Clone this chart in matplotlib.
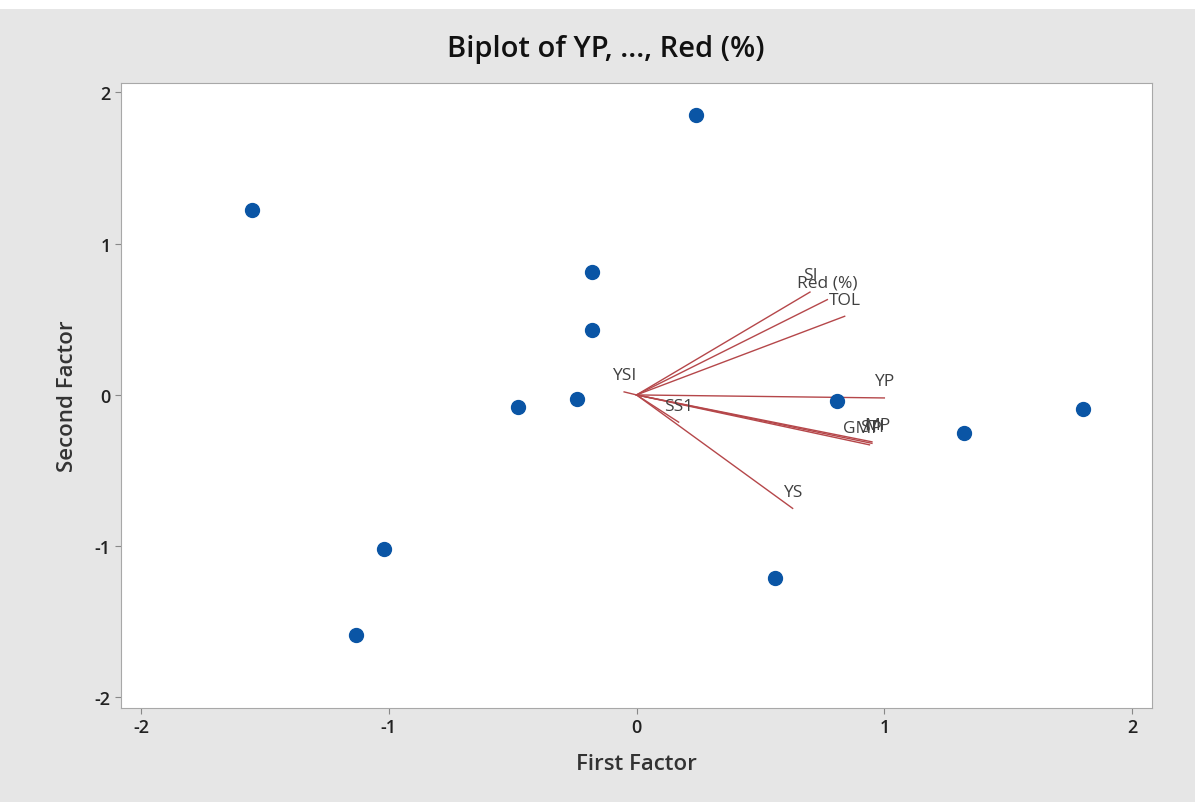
import matplotlib.pyplot as plt
from matplotlib.patches import Rectangle

plt.rcParams['font.family'] = ['Open Sans', 'DejaVu Sans']
plt.rcParams['axes.unicode_minus'] = False

# scores (first factor, second factor)
score_x = [0.24, -1.55, -0.18, -0.18, -0.48, -0.24, 0.81, 1.32, 1.80, 0.56, -1.02, -1.13]
score_y = [1.85, 1.22, 0.81, 0.43, -0.08, -0.03, -0.04, -0.25, -0.09, -1.21, -1.02, -1.59]

# loadings
var_names = ["YP", "YS", "SS1", "TOL", "MP", "GMP", "STI", "YSI", "SI", "Red (%)"]
load_x = [1.00, 0.63, 0.17, 0.84, 0.95, 0.94, 0.95, -0.05, 0.70, 0.77]
load_y = [-0.02, -0.75, -0.18, 0.52, -0.31, -0.33, -0.32, 0.02, 0.68, 0.63]
label_dx = [0.0, 0.0, 0.0, 0.0, 0.02, -0.03, 0.0, 0.0, 0.0, 0.0]

fig = plt.figure(figsize=(11.95, 8.03), dpi=100)
fig.patch.set_facecolor("#e6e6e6")
fig.patches.append(Rectangle((0, 1 - 10 / 803), 1, 10 / 803, transform=fig.transFigure,
                             facecolor="white", edgecolor="none", zorder=0))
ax = fig.add_axes([0.1013, 0.117, 0.8627, 0.778])
ax.set_facecolor("white")

for vx, vy in zip(load_x, load_y):
    ax.plot([0, vx], [0, vy], color="#b5474a", lw=1.0, zorder=2)
for name, vx, vy, dx in zip(var_names, load_x, load_y, label_dx):
    ax.text(vx + dx, vy + 0.11, name, ha="center", va="center", fontsize=12.5,
            color="#404040", zorder=3)

ax.plot(score_x, score_y, "o", color="#0a55a5", markersize=10, zorder=4)

ax.set_xlim(-2.08, 2.08)
ax.set_ylim(-2.07, 2.06)
ax.set_xticks([-2, -1, 0, 1, 2])
ax.set_yticks([-2, -1, 0, 1, 2])
ax.tick_params(labelsize=13, colors="#222222", length=4, color="#888888")
for lbl in ax.get_xticklabels() + ax.get_yticklabels():
    lbl.set_fontweight("semibold")
for s in ax.spines.values():
    s.set_color("#a8a8a8")

ax.set_xlabel("First Factor", fontsize=16, fontweight="semibold", color="#333333", labelpad=12)
ax.set_ylabel("Second Factor", fontsize=16, fontweight="semibold", color="#333333", labelpad=12)
fig.text(0.507, 0.938, "Biplot of YP, ..., Red (%)", ha="center", va="center",
         fontsize=21, fontweight="semibold", color="#111111")

fig.savefig("out.png", dpi=100, facecolor=fig.get_facecolor())
